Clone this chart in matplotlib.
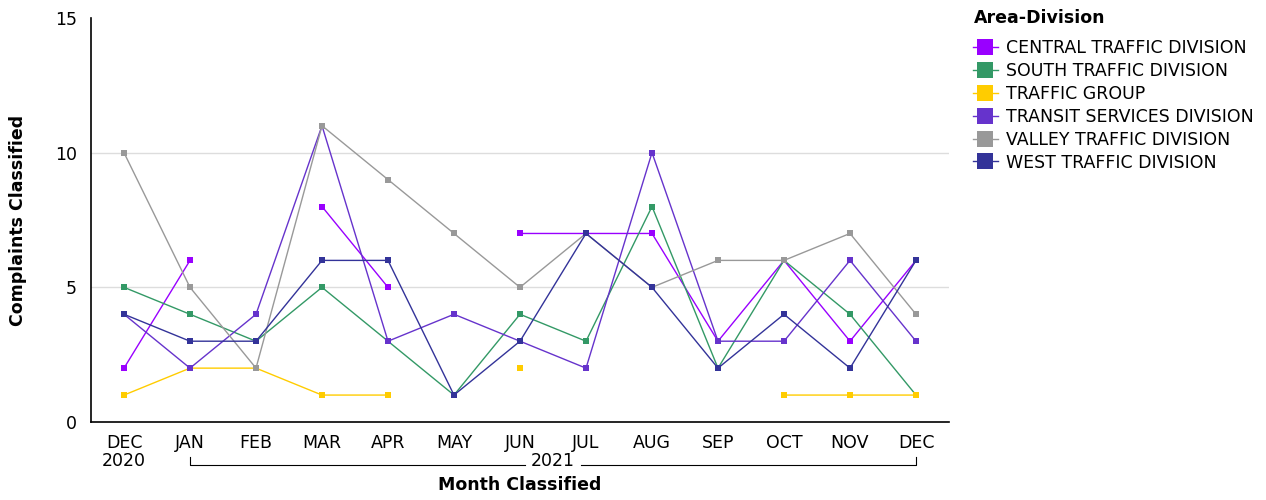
import numpy as np
import matplotlib
matplotlib.use("Agg")
import matplotlib.pyplot as plt
from matplotlib.lines import Line2D
import matplotlib.transforms as mtransforms

nan = np.nan
months = ["DEC", "JAN", "FEB", "MAR", "APR", "MAY", "JUN", "JUL", "AUG", "SEP", "OCT", "NOV", "DEC"]
years = ["2020", "2021"]
series_names = ["CENTRAL TRAFFIC DIVISION", "SOUTH TRAFFIC DIVISION", "TRAFFIC GROUP",
                "TRANSIT SERVICES DIVISION", "VALLEY TRAFFIC DIVISION", "WEST TRAFFIC DIVISION"]
central = [2, 6, nan, 8, 5, nan, 7, 7, 7, 3, 6, 3, 6]
south = [5, 4, 3, 5, 3, 1, 4, 3, 8, 2, 6, 4, 1]
traffic_group = [1, 2, 2, 1, 1, nan, 2, nan, nan, nan, 1, 1, 1]
transit = [4, 2, 4, 11, 3, 4, 3, 2, 10, 3, 3, 6, 3]
valley = [10, 5, 2, 11, 9, 7, 5, 7, 5, 6, 6, 7, 4]
west = [4, 3, 3, 6, 6, 1, 3, 7, 5, 2, 4, 2, 6]
yticks = [0, 5, 10, 15]

colors = ["#9900FF", "#339966", "#FFCC00", "#6633CC", "#999999", "#333399"]
all_series = [central, south, traffic_group, transit, valley, west]

plt.rcParams['font.family'] = ['DejaVu Sans']
W, H = 1266, 500
fig = plt.figure(figsize=(W / 100, H / 100), dpi=100)
ax = fig.add_axes([91 / W, (H - 422) / H, (949 - 91) / W, (422 - 18) / H])

x = np.arange(len(months))
for s, c in zip(all_series, colors):
    ax.plot(x, np.array(s, dtype=float), color=c, lw=1.0, marker='s', markersize=5,
            markeredgewidth=0, zorder=3)

ax.set_xlim(-0.5, len(months) - 0.5)
ax.set_ylim(0, 15)
ax.set_yticks(yticks)
ax.set_yticklabels([str(v) for v in yticks], fontsize=12.5)
for v in [5, 10]:
    ax.axhline(v, color="#dddddd", lw=1.0, zorder=1)
ax.set_xticks(x)
ax.set_xticklabels(months, fontsize=12.5)
ax.tick_params(axis='both', length=0)
ax.tick_params(axis='x', pad=9)
ax.tick_params(axis='y', pad=10)
for sp in ['top', 'right']:
    ax.spines[sp].set_visible(False)
for sp in ['left', 'bottom']:
    ax.spines[sp].set_color('black')
    ax.spines[sp].set_linewidth(1.2)

# year labels
trans = mtransforms.blended_transform_factory(ax.transData, ax.transAxes)
ax.text(0, -0.097, years[0], transform=trans, ha='center', va='center', fontsize=12.5)
mid = (1 + len(months) - 1) / 2
ax.text(mid, -0.097, years[1], transform=trans, ha='center', va='center', fontsize=12.5)
yb, yt = -0.106, -0.086
ax.plot([1, 1, mid - 0.42], [yt, yb, yb], transform=trans, color='black', lw=0.8, clip_on=False)
ax.plot([mid + 0.42, 12, 12], [yb, yb, yt], transform=trans, color='black', lw=0.8, clip_on=False)

ax.set_xlabel("Month Classified", fontsize=12.5, fontweight='bold', labelpad=17)
ax.set_ylabel("Complaints Classified", fontsize=12.5, fontweight='bold', labelpad=20)

fig.text(974 / W, 1 - 18 / H, "Area-Division", fontsize=12.5, fontweight='bold',
         ha='left', va='center')
handles = [Line2D([0], [0], color=c, lw=1.0, marker='s', markersize=11, markeredgewidth=0)
           for c in colors]
leg = fig.legend(handles, series_names, loc='upper left', bbox_to_anchor=(968 / W, 1 - 34 / H),
                 frameon=False, fontsize=12.5,
                 handlelength=1.4, handletextpad=0.5, labelspacing=0.28,
                 borderaxespad=0, borderpad=0.3)

fig.savefig("out.png", dpi=100)
